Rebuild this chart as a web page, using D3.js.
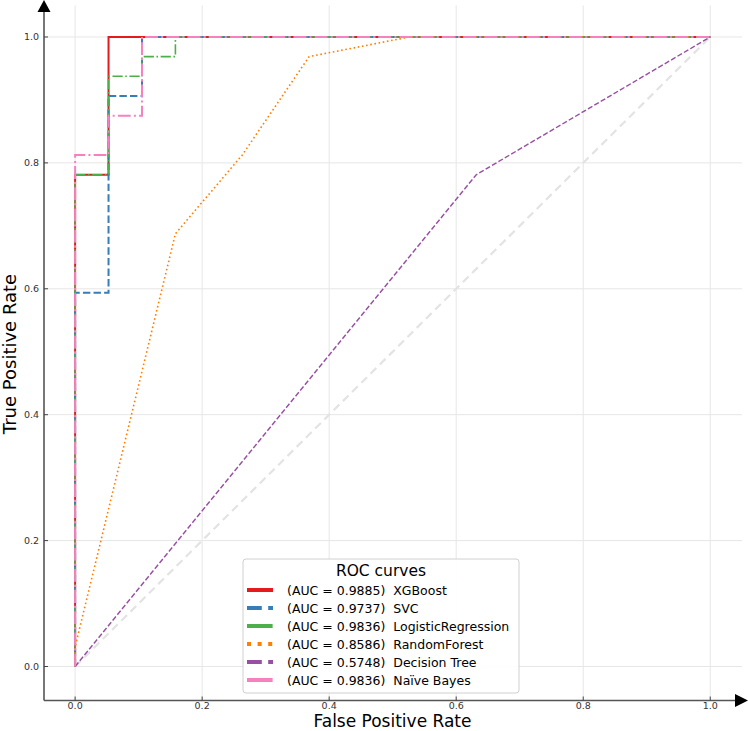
<!DOCTYPE html>
<html><head><meta charset="utf-8">
<script src="https://cdn.jsdelivr.net/npm/d3@7"></script>
<style>html,body{margin:0;padding:0;background:#fff;}svg{display:block;}text{font-family:"DejaVu Sans",sans-serif;}</style>
</head><body>
<svg id="c" width="748" height="731"></svg>
<script>
// ---- data ----
const seriesNames = ["XGBoost","SVC","LogisticRegression","RandomForest","Decision Tree","Naïve Bayes"];
const aucLabels = ["0.9885","0.9737","0.9836","0.8586","0.5748","0.9836"];
const colors = ["#e41a1c","#377eb8","#4daf4a","#ff7f00","#984ea3","#f781bf"];
const fprXGB = [0,0,0.0526,0.0526,1];
const tprXGB = [0,0.78125,0.78125,1,1];
const fprSVC = [0,0,0.0526,0.0526,0.1053,0.1053,1];
const tprSVC = [0,0.59375,0.59375,0.90625,0.90625,1,1];
const fprLR = [0,0,0.0526,0.0526,0.1053,0.1053,0.1579,0.1579,1];
const tprLR = [0,0.78125,0.78125,0.9375,0.9375,0.96875,0.96875,1,1];
const fprRF = [0,0,0.1579,0.2632,0.3684,0.5263,1];
const tprRF = [0,0.03125,0.6875,0.8125,0.96875,1,1];
const fprDT = [0,0.6316,1];
const tprDT = [0,0.78125,1];
const fprNB = [0,0,0.0526,0.0526,0.1053,0.1053,1];
const tprNB = [0,0.8125,0.8125,0.875,0.875,1,1];
const tickValues = [0,0.2,0.4,0.6,0.8,1.0];
const tickLabels = ["0.0","0.2","0.4","0.6","0.8","1.0"];

const fprs=[fprXGB,fprSVC,fprLR,fprRF,fprDT,fprNB];
const tprs=[tprXGB,tprSVC,tprLR,tprRF,tprDT,tprNB];
// styles
const lws=[2,2,1.6,1.6,1.4,2];
const dashFn=(i,lw)=>{const p={1:[3.7,1.6],4:[3.7,1.6],2:[6.4,1.6,1,1.6],5:[6.4,1.6,1,1.6],3:[1,1.65]}[i];return p?p.map(d=>d*lw).join(","):null;};

const svg=d3.select("#c");
const L=44,R=742,T=5.5,B=700.5;
const x=d3.scaleLinear().domain([-0.049,1.05]).range([L,R]);
const y=d3.scaleLinear().domain([-0.054,1.05]).range([B,T]);

// grid
const g=svg.append("g");
g.selectAll(".gx").data(tickValues).join("line").attr("x1",d=>x(d)).attr("x2",d=>x(d)).attr("y1",T).attr("y2",B).attr("stroke","#e6e6e6").attr("stroke-width",1);
g.selectAll(".gy").data(tickValues).join("line").attr("y1",d=>y(d)).attr("y2",d=>y(d)).attr("x1",L).attr("x2",R).attr("stroke","#e6e6e6").attr("stroke-width",1);

// diagonal
svg.append("line").attr("x1",x(0)).attr("y1",y(0)).attr("x2",x(1)).attr("y2",y(1)).attr("stroke","#e3e3e3").attr("stroke-width",2.2).attr("stroke-dasharray","8,5");

const line=d3.line().x(d=>x(d[0])).y(d=>y(d[1]));
fprs.forEach((f,i)=>{
  const pts=f.map((v,j)=>[v,tprs[i][j]]);
  const p=svg.append("path").attr("d",line(pts)).attr("fill","none").attr("stroke",colors[i]).attr("stroke-width",lws[i]);
  const da=dashFn(i,lws[i]); if(da)p.attr("stroke-dasharray",da);
});

// axes
const ax=svg.append("g");
ax.append("line").attr("x1",L).attr("x2",L).attr("y1",10).attr("y2",B).attr("stroke","#555").attr("stroke-width",1.6);
ax.append("line").attr("x1",L).attr("x2",738).attr("y1",B).attr("y2",B).attr("stroke","#555").attr("stroke-width",1.6);
ax.append("path").attr("d",`M${L},0 L${L-6.5},12 L${L+6.5},12 Z`).attr("fill","#000");
ax.append("path").attr("d",`M748,${B} L735,${B-6.5} L735,${B+6.5} Z`).attr("fill","#000");
// ticks
ax.selectAll(".tx").data(tickValues).join("line").attr("x1",d=>x(d)).attr("x2",d=>x(d)).attr("y1",B).attr("y2",B-4).attr("stroke","#444").attr("stroke-width",1);
ax.selectAll(".ty").data(tickValues).join("line").attr("y1",d=>y(d)).attr("y2",d=>y(d)).attr("x1",L).attr("x2",L+4).attr("stroke","#444").attr("stroke-width",1);
ax.selectAll(".lx").data(tickValues).join("text").attr("x",d=>x(d)).attr("y",B+8.5).attr("text-anchor","middle").attr("font-size",9.5).attr("fill","#333").text((d,i)=>tickLabels[i]);
ax.selectAll(".ly").data(tickValues).join("text").attr("x",L-5).attr("y",d=>y(d)).attr("dy","0.35em").attr("text-anchor","end").attr("font-size",9.5).attr("fill","#333").text((d,i)=>tickLabels[i]);

svg.append("text").attr("x",392.5).attr("y",727).attr("text-anchor","middle").attr("font-size",17).text("False Positive Rate");
svg.append("text").attr("transform","translate(15.5,354) rotate(-90)").attr("text-anchor","middle").attr("font-size",18).text("True Positive Rate");

// legend
const lg=svg.append("g");
lg.append("rect").attr("x",243).attr("y",559).attr("width",276).attr("height",134).attr("rx",3).attr("fill","#fff").attr("fill-opacity",0.9).attr("stroke","#d0d0d0").attr("stroke-width",1);
lg.append("text").attr("x",381).attr("y",576).attr("text-anchor","middle").attr("font-size",15.5).text("ROC curves");
seriesNames.forEach((n,i)=>{
  const yy=590+18*i;
  const l=lg.append("line").attr("x1",247).attr("x2",273).attr("y1",yy).attr("y2",yy).attr("stroke",colors[i]).attr("stroke-width",4);
  const da=dashFn(i,4); if(da)l.attr("stroke-dasharray",da);
  lg.append("text").attr("x",287).attr("y",yy).attr("dy","0.36em").attr("font-size",12.5).style("white-space","pre").text(`(AUC = ${aucLabels[i]})  ${n}`);
});
</script>
</body></html>
